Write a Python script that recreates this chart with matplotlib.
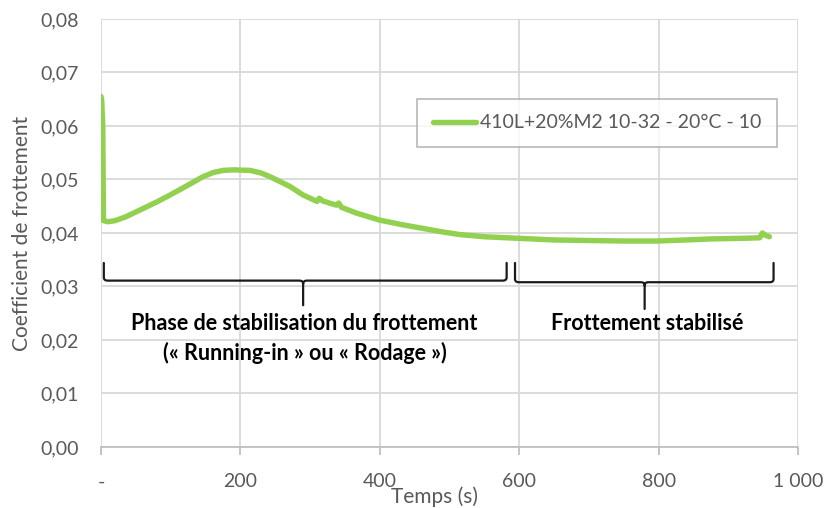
import matplotlib
matplotlib.use("Agg")
import matplotlib.pyplot as plt
from matplotlib.path import Path
from matplotlib.patches import PathPatch
from matplotlib.ticker import FuncFormatter

plt.rcParams['font.family'] = ['Lato', 'DejaVu Sans']

# friction curve
temps = [0, 1, 2.5, 3.5, 10, 20, 35, 56, 80, 99, 120, 146, 161, 175, 190, 214,
         230, 243, 257, 271, 290, 305, 310, 313, 318, 330, 338, 341, 345, 367,
         400, 430, 460, 490, 515, 550, 600, 650, 697, 750, 797, 840, 877, 920,
         945, 949, 953, 959]
coef = [0.0655, 0.0648, 0.0600, 0.0423, 0.0421, 0.0423, 0.0430, 0.0443, 0.0458,
        0.0471, 0.0486, 0.0505, 0.0513, 0.0517, 0.0518, 0.0517, 0.0512, 0.0505,
        0.0496, 0.0487, 0.0471, 0.0462, 0.0459, 0.0465, 0.0460, 0.0455, 0.0452,
        0.0456, 0.0448, 0.0437, 0.0424, 0.0416, 0.0409, 0.0402, 0.0397, 0.0393,
        0.0390, 0.0387, 0.0386, 0.0385, 0.0385, 0.0387, 0.0389, 0.0390, 0.0391,
        0.0400, 0.0396, 0.0393]
serie_label = "410L+20%M2 10-32 - 20°C - 10"

x_ticks = [0, 200, 400, 600, 800, 1000]
y_ticks = [0.00, 0.01, 0.02, 0.03, 0.04, 0.05, 0.06, 0.07, 0.08]

GREEN = '#92D050'
GRID = '#D9D9D9'
TXT = '#595959'

fig = plt.figure(figsize=(8.24, 5.08), dpi=100)
ax = fig.add_axes([0.1226, 0.1201, 0.8458, 0.8425])

ax.plot(temps, coef, color=GREEN, lw=3.9, label=serie_label, solid_capstyle='round')

ax.set_xlim(0, 1000)
ax.set_ylim(0, 0.08)
ax.set_xticks(x_ticks)
ax.set_yticks(y_ticks)


def fmt_x(v, pos):
    if v == 0:
        return '-'
    return '{:,.0f}'.format(v).replace(',', ' ')


ax.xaxis.set_major_formatter(FuncFormatter(fmt_x))
ax.yaxis.set_major_formatter(FuncFormatter(lambda v, p: '{:.2f}'.format(v).replace('.', ',')))

ax.grid(True, color=GRID, lw=1.3)
ax.set_axisbelow(True)
for s in ['top', 'right', 'left']:
    ax.spines[s].set_visible(False)
ax.spines['bottom'].set_color('#BFBFBF')
ax.spines['bottom'].set_linewidth(1.3)
ax.tick_params(axis='x', length=6, width=1.3, color='#BFBFBF', labelsize=14,
               labelcolor=TXT, pad=13)
ax.tick_params(axis='y', length=0, labelsize=14, labelcolor=TXT, pad=16)

ax.set_ylabel('Coefficient de frottement', fontsize=15, color=TXT)
ax.yaxis.set_label_coords(-0.099, 0.5)
ax.set_xlabel('Temps (s)', fontsize=15, color=TXT)
ax.xaxis.set_label_coords(0.478, -0.093)

leg = ax.legend(loc='upper left', bbox_to_anchor=(0.44, 0.836), fontsize=14,
                frameon=True, fancybox=False, handlelength=2.2, handletextpad=0.2,
                borderpad=0.8, labelcolor=TXT)
leg.get_frame().set_edgecolor('#A6A6A6')
leg.get_frame().set_linewidth(1.2)


def brace(x0, x1, xc, ytop, ymid, ytip):
    dx = 5.5
    dy = 0.0006
    verts = [(x0, ytop), (x0, ymid + dy), (x0, ymid), (x0 + dx, ymid),
             (xc - dx, ymid), (xc, ymid), (xc, ymid - dy), (xc, ytip),
             (x1, ytop), (x1, ymid + dy), (x1, ymid), (x1 - dx, ymid),
             (xc + dx, ymid), (xc, ymid), (xc, ymid - dy)]
    codes = [Path.MOVETO, Path.LINETO, Path.CURVE3, Path.CURVE3,
             Path.LINETO, Path.CURVE3, Path.CURVE3, Path.LINETO,
             Path.MOVETO, Path.LINETO, Path.CURVE3, Path.CURVE3,
             Path.LINETO, Path.CURVE3, Path.CURVE3]
    ax.add_patch(PathPatch(Path(verts, codes), fill=False, lw=1.6,
                           edgecolor='#1a1a1a', capstyle='round'))


brace(4, 582, 290, 0.0344, 0.0311, 0.0265)
brace(594, 965, 780, 0.0344, 0.0308, 0.0258)

ax.text(292, 0.0231, 'Phase de stabilisation du frottement', ha='center',
        va='center', fontsize=15.5, fontweight='bold', color='black')
ax.text(292, 0.0175, '(« Running-in » ou « Rodage »)', ha='center',
        va='center', fontsize=15.5, fontweight='bold', color='black')
ax.text(783, 0.0231, 'Frottement stabilisé', ha='center',
        va='center', fontsize=15.5, fontweight='bold', color='black')

fig.savefig('out.png', dpi=100)
